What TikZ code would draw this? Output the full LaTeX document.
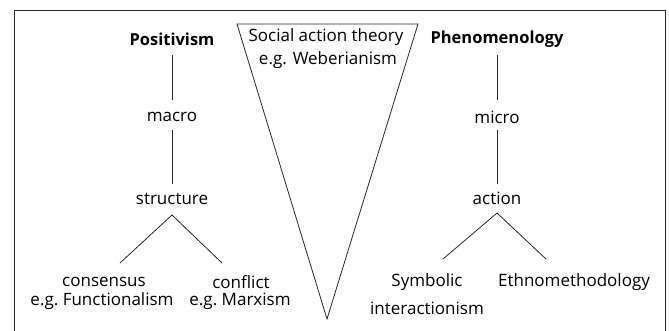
\documentclass[tikz,border=0pt]{standalone}
\usepackage{fontspec}
\setmainfont{Open Sans}
\begin{document}
\begin{tikzpicture}[x=1pt,y=-1pt,
  lbl/.style={inner sep=0pt, font=\fontsize{17}{20}\selectfont},
  hd/.style={lbl, font=\fontsize{16.5}{20}\selectfont\bfseries},
  ln/.style={draw=black!85, line width=0.8pt}]
\useasboundingbox (0,0) rectangle (669,330);
\draw[ln] (14,331) -- (14,10) -- (665,10) -- (665,331);
% triangle
\coordinate (tl) at (237,24);
\coordinate (tr) at (418,24);
\coordinate (ap) at (327,319);
\draw[ln] (tl) -- (tr) -- (ap) -- cycle;
\node[lbl] (sat) at (326,37) {Social action theory};
\node[lbl] (web) at (328,60) {e.g. Weberianism};
% left tree
\node[hd] (pos) at (172,39) {Positivism};
\node[lbl] (mac) at (172,117) {macro};
\node[lbl] (str) at (172,199) {structure};
\node[lbl] (con) at (104,282) {consensus};
\node[lbl] (fun) at (102,301) {e.g.\ Functionalism};
\node[lbl] (cfl) at (241,282) {conflict};
\node[lbl] (mar) at (240,301) {e.g.\ Marxism};
\coordinate (p1) at (172,55); \coordinate (p2) at (172,100);
\coordinate (p3) at (172,130); \coordinate (p4) at (172,184);
\coordinate (s0) at (172,215); \coordinate (s1) at (120,263); \coordinate (s2) at (222,263);
\draw[ln] (p1) -- (p2);
\draw[ln] (p3) -- (p4);
\draw[ln] (s1) -- (s0) -- (s2);
% right tree
\node[hd] (phe) at (497,39) {Phenomenology};
\node[lbl] (mic) at (497,117) {micro};
\node[lbl] (act) at (497,198) {action};
\node[lbl] (sym) at (427,282) {Symbolic};
\node[lbl] (int) at (427,308) {interactionism};
\node[lbl] (eth) at (574,282) {Ethnomethodology};
\coordinate (q1) at (497,55); \coordinate (q2) at (497,100);
\coordinate (q3) at (497,130); \coordinate (q4) at (497,184);
\coordinate (a0) at (497,213); \coordinate (a1) at (443,259); \coordinate (a2) at (546,259);
\draw[ln] (q1) -- (q2);
\draw[ln] (q3) -- (q4);
\draw[ln] (a1) -- (a0) -- (a2);
\end{tikzpicture}
\end{document}
